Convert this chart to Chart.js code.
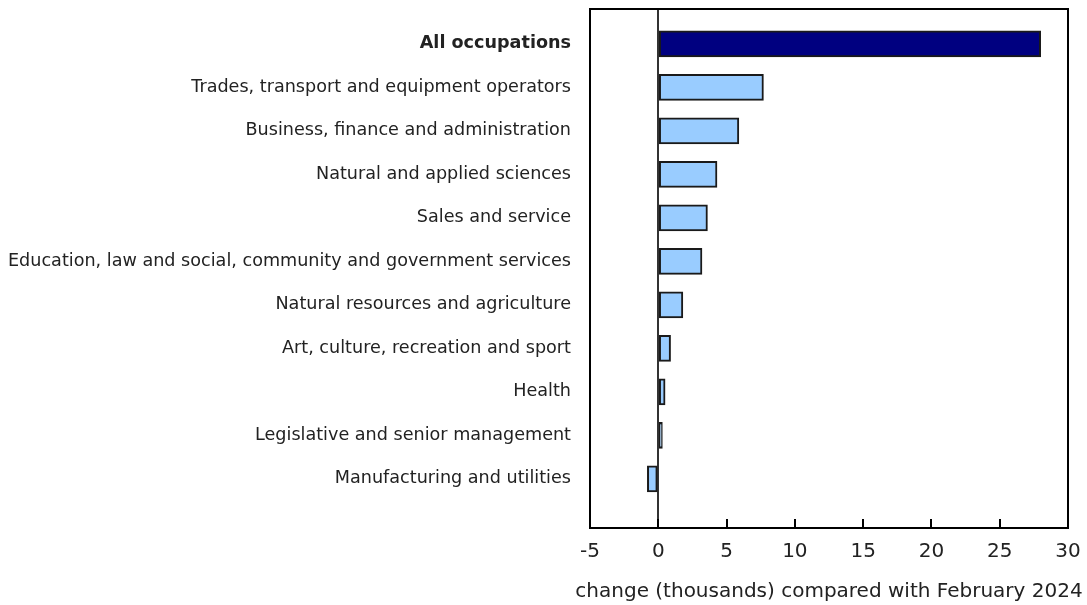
<!DOCTYPE html>
<html lang="en">
<head>
  <meta charset="UTF-8" />
  <title>Employment change by occupation</title>
  <script src="https://cdn.jsdelivr.net/npm/chart.js"></script>
  <style>
    html, body { margin: 0; padding: 0; background: #fff; }
    .wrap { width: 1087px; height: 605px; }
  </style>
</head>
<body>
  <div class="wrap"><canvas id="chart"></canvas></div>

  <script>
  const occupations = [
    'All occupations',
    'Trades, transport and equipment operators',
    'Business, finance and administration',
    'Natural and applied sciences',
    'Sales and service',
    'Education, law and social, community and government services',
    'Natural resources and agriculture',
    'Art, culture, recreation and sport',
    'Health',
    'Legislative and senior management',
    'Manufacturing and utilities'
  ];
  const change = [28.0, 7.7, 5.9, 4.3, 3.6, 3.2, 1.8, 0.9, 0.5, 0.3, -0.8];
  const xTicks = [-5, 0, 5, 10, 15, 20, 25, 30];
  const xTitle = 'change (thousands) compared with February 2024';

  const FONT = 'Verdana, "DejaVu Sans", sans-serif';

  // box round the plot, small tick marks pointing into it, and the axis title
  // (drawn here so it is not squeezed to the plot width like the built-in title)
  const frame = {
    id: 'frame',
    afterDraw(chart) {
      const { ctx, chartArea: a, scales } = chart;
      ctx.save();
      ctx.strokeStyle = '#000';
      ctx.lineWidth = 2;
      ctx.strokeRect(a.left, a.top, a.right - a.left, a.bottom - a.top);
      xTicks.forEach(v => {
        const px = Math.round(scales.x.getPixelForValue(v));
        ctx.beginPath();
        ctx.moveTo(px, a.bottom);
        ctx.lineTo(px, a.bottom - 9);
        ctx.stroke();
      });
      ctx.fillStyle = '#222';
      ctx.font = '20px ' + FONT;
      ctx.textAlign = 'center';
      ctx.textBaseline = 'middle';
      ctx.fillText(xTitle, (a.left + a.right) / 2, a.bottom + 64);
      ctx.restore();
    }
  };

  new Chart(document.getElementById('chart'), {
    type: 'bar',
    data: {
      datasets: [{
        data: change.map((v, i) => ({ x: v, y: i })),
        backgroundColor: change.map((v, i) => i === 0 ? '#000080' : '#99CCFF'),
        borderColor: '#1a1a1a',
        borderWidth: 2,
        borderSkipped: false,
        barThickness: 26
      }]
    },
    options: {
      indexAxis: 'y',
      responsive: true,
      maintainAspectRatio: false,
      animation: false,
      layout: { padding: { top: 9, right: 19, left: 0, bottom: 0 } },
      plugins: {
        legend: { display: false },
        tooltip: { enabled: false }
      },
      scales: {
        x: {
          type: 'linear',
          min: -5,
          max: 30,
          afterBuildTicks: s => { s.ticks = xTicks.map(v => ({ value: v })); },
          afterFit: s => { s.height = 77; s.paddingLeft = 0; s.paddingRight = 0; },
          border: { display: false },
          grid: {
            drawTicks: false,
            color: c => c.tick && c.tick.value === 0 ? '#333' : 'rgba(0,0,0,0)',
            lineWidth: 2
          },
          ticks: {
            padding: 12,
            color: '#222',
            font: { family: FONT, size: 20 }
          }
        },
        y: {
          type: 'linear',
          reverse: true,
          offset: false,
          min: -0.8,
          max: 11.13,
          afterBuildTicks: s => { s.ticks = occupations.map((o, i) => ({ value: i })); },
          afterFit: s => { s.width = 590; s.paddingTop = 0; s.paddingBottom = 0; },
          border: { display: false },
          grid: { display: false, drawTicks: false },
          ticks: {
            padding: 19,
            color: '#222',
            callback: v => occupations[v] || '',
            font: c => ({ family: FONT, size: 17.6, weight: c.tick && c.tick.value === 0 ? 'bold' : 'normal' })
          }
        }
      }
    },
    plugins: [frame]
  });
  </script>
</body>
</html>
